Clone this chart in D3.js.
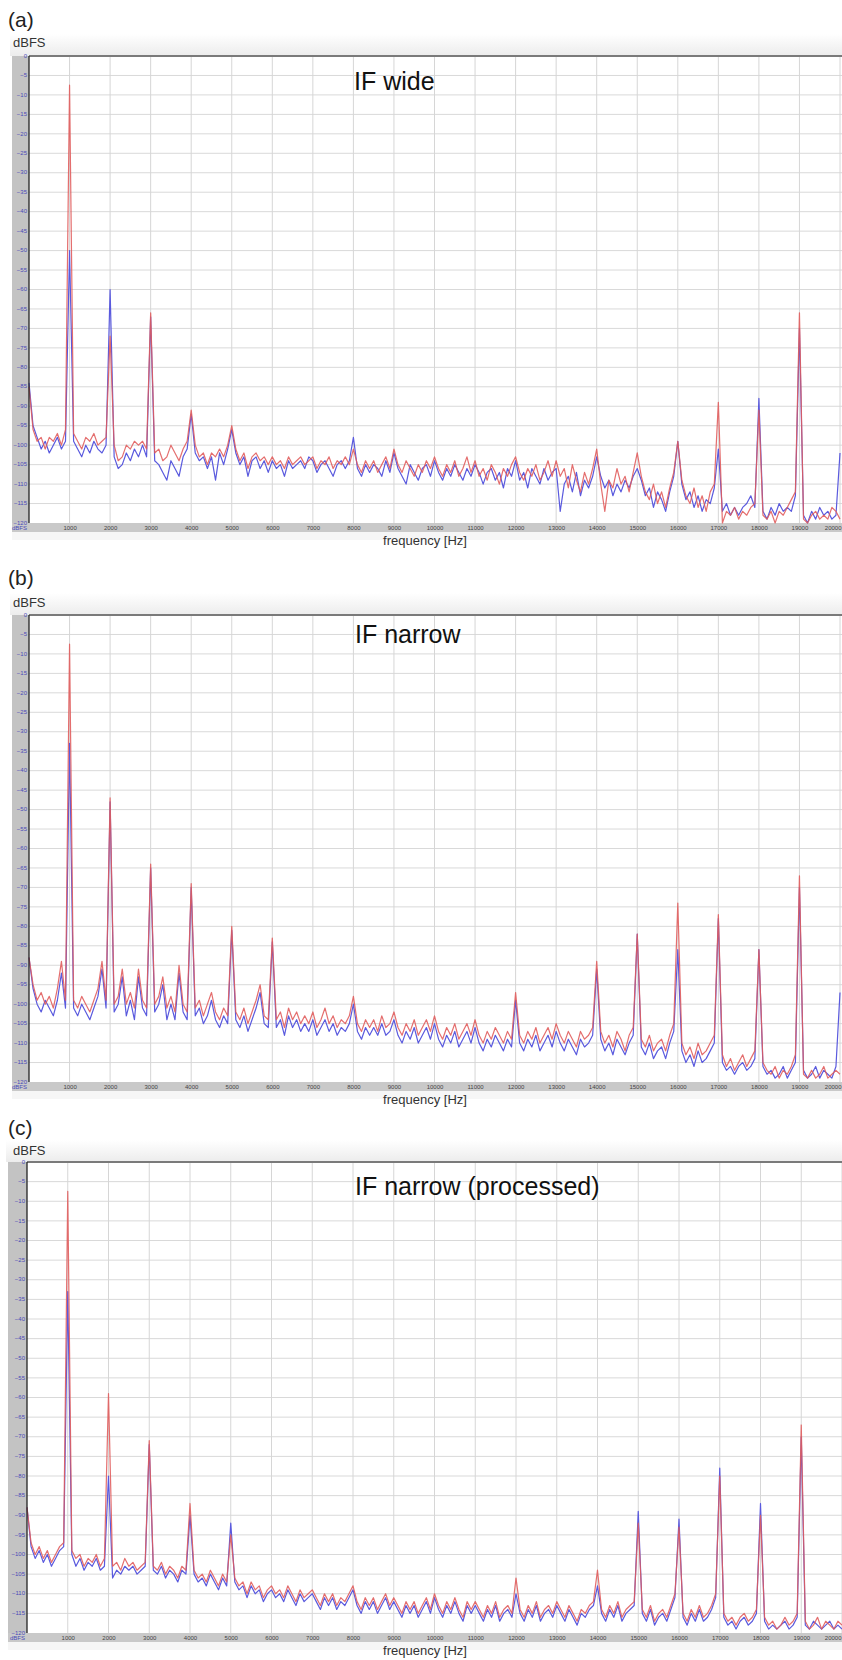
<!DOCTYPE html>
<html>
<head>
<meta charset="utf-8">
<script src="https://cdn.jsdelivr.net/npm/d3@7/dist/d3.min.js"></script>
<style>
html,body{margin:0;padding:0;background:#fff;}
svg{display:block;}
</style>
</head>
<body>
<svg id="chart" width="842" height="1660"></svg>
<script>
// ---------- DATA (dBFS values at 0,100,200,...,20000 Hz) ----------
const panelLabels = ["(a)", "(b)", "(c)"];
const panelTitles = ["IF wide", "IF narrow", "IF narrow (processed)"];
const yTickValues = [-120,-115,-110,-105,-100,-95,-90,-85,-80,-75,-70,-65,-60,-55,-50,-45,-40,-35,-30,-25,-20,-15,-10,-5,0];
const xTickValues = [1000,2000,3000,4000,5000,6000,7000,8000,9000,10000,11000,12000,13000,14000,15000,16000,17000,18000,19000,20000];
const freqStep = 100;

const redA = [
-85,-96,-99,-98,-101,-98,-99,-97,-100,-96,
-7.5,-97,-99,-101,-98,-99,-97,-100,-99,-98,
-72,-100,-104,-103,-100,-101,-99,-100,-99,-101,
-66,-102,-101,-104,-103,-100,-102,-104,-101,-99,
-91,-100,-103,-102,-105,-102,-103,-101,-103,-100,
-95,-101,-104,-102,-106,-103,-102,-104,-103,-105,
-103,-105,-104,-106,-103,-105,-104,-103,-105,-104,
-103,-106,-104,-105,-103,-106,-104,-105,-103,-105,
-101,-105,-107,-104,-106,-104,-107,-105,-103,-106,
-101,-105,-107,-104,-106,-108,-105,-107,-104,-106,
-103,-106,-108,-105,-107,-104,-108,-106,-103,-107,
-104,-108,-106,-109,-105,-107,-110,-106,-108,-105,
-103,-107,-109,-106,-108,-105,-109,-107,-104,-108,
-104,-108,-106,-111,-105,-109,-112,-107,-110,-106,
-101,-110,-117,-109,-111,-106,-110,-108,-112,-107,
-102,-108,-112,-114,-110,-115,-112,-116,-111,-107,
-99,-109,-113,-115,-111,-116,-113,-117,-112,-110,
-89,-120,-117,-118,-116,-119,-117,-118,-116,-115,
-91,-118,-119,-117,-120,-117,-118,-116,-114,-112,
-66,-119,-120,-118,-117,-119,-118,-119,-116,-117,
-119];
const blueA = [
-84,-95,-98,-101,-99,-102,-100,-98,-101,-99,
-50,-99,-101,-103,-100,-102,-99,-101,-102,-100,
-60,-103,-106,-105,-102,-104,-101,-103,-100,-103,
-67,-104,-105,-107,-109,-104,-106,-108,-103,-101,
-92,-102,-104,-103,-106,-103,-109,-102,-105,-101,
-96,-102,-105,-103,-108,-104,-103,-106,-104,-107,
-104,-106,-105,-108,-104,-106,-105,-104,-106,-103,
-104,-107,-105,-104,-106,-108,-105,-104,-106,-104,
-98,-106,-108,-105,-107,-105,-106,-108,-104,-107,
-102,-106,-108,-110,-105,-107,-109,-106,-105,-108,
-104,-107,-109,-106,-108,-105,-107,-109,-106,-108,
-105,-107,-110,-107,-106,-109,-107,-111,-106,-108,
-104,-109,-107,-111,-106,-108,-110,-106,-109,-107,
-106,-117,-110,-108,-112,-107,-113,-109,-111,-108,
-103,-108,-111,-109,-113,-110,-112,-109,-111,-108,
-106,-109,-113,-111,-116,-112,-114,-117,-112,-108,
-99,-110,-114,-112,-116,-113,-117,-114,-115,-111,
-101,-117,-115,-118,-116,-118,-116,-115,-113,-116,
-88,-117,-119,-116,-118,-115,-117,-116,-117,-113,
-70,-118,-120,-117,-119,-116,-118,-117,-119,-118,
-102];

const redB = [
-88,-95,-99,-97,-100,-98,-101,-96,-89,-99,
-7.5,-99,-101,-98,-100,-102,-99,-96,-89,-99,
-47,-100,-98,-91,-100,-97,-101,-91,-99,-101,
-64,-100,-98,-93,-101,-98,-102,-90,-100,-102,
-69,-101,-99,-103,-100,-97,-102,-104,-101,-103,
-80,-102,-104,-101,-105,-102,-99,-95,-103,-104,
-83,-104,-102,-106,-101,-104,-102,-105,-103,-105,
-102,-106,-104,-101,-105,-103,-106,-104,-105,-103,
-98,-105,-107,-104,-106,-104,-107,-103,-106,-105,
-102,-106,-108,-105,-107,-104,-108,-106,-104,-107,
-103,-107,-109,-106,-108,-105,-109,-107,-105,-108,
-104,-108,-110,-107,-109,-106,-108,-110,-107,-109,
-97,-108,-110,-107,-109,-106,-110,-108,-106,-109,
-105,-108,-110,-107,-109,-111,-107,-109,-108,-106,
-89,-107,-110,-108,-111,-107,-109,-112,-108,-106,
-82,-109,-111,-108,-112,-110,-109,-112,-108,-105,
-74,-110,-113,-111,-114,-110,-113,-112,-110,-108,
-77,-113,-116,-114,-117,-115,-113,-116,-114,-112,
-86,-115,-117,-118,-116,-119,-117,-118,-116,-113,
-67,-118,-119,-117,-119,-118,-116,-119,-118,-117,
-118];
const blueB = [
-88,-96,-100,-102,-99,-101,-103,-99,-92,-101,
-33,-101,-103,-100,-102,-104,-101,-98,-91,-101,
-48,-102,-100,-93,-103,-99,-104,-93,-101,-103,
-65,-102,-100,-95,-104,-100,-104,-92,-102,-104,
-70,-103,-101,-105,-103,-99,-104,-106,-103,-105,
-81,-104,-106,-103,-107,-104,-101,-97,-105,-106,
-84,-106,-104,-108,-103,-106,-104,-107,-105,-107,
-104,-108,-106,-104,-107,-105,-108,-106,-107,-105,
-100,-107,-109,-106,-108,-106,-108,-105,-108,-107,
-104,-108,-110,-107,-109,-106,-110,-108,-106,-109,
-105,-109,-111,-108,-110,-107,-111,-109,-107,-110,
-106,-110,-112,-109,-111,-108,-110,-112,-109,-111,
-99,-110,-112,-109,-111,-108,-112,-110,-108,-111,
-107,-110,-112,-109,-111,-113,-109,-111,-110,-108,
-91,-109,-112,-110,-113,-109,-111,-113,-110,-108,
-82,-111,-113,-110,-114,-112,-111,-114,-110,-107,
-86,-112,-115,-113,-116,-112,-115,-114,-112,-110,
-78,-115,-117,-116,-118,-116,-115,-117,-116,-114,
-86,-116,-118,-117,-119,-118,-116,-119,-117,-115,
-70,-117,-119,-118,-116,-119,-117,-118,-119,-116,
-97];

const redC = [
-88,-97,-100,-98,-101,-99,-102,-100,-98,-97,
-7.5,-99,-101,-100,-103,-101,-102,-100,-103,-101,
-59,-103,-102,-104,-101,-103,-102,-104,-103,-102,
-71,-103,-104,-102,-105,-103,-104,-106,-103,-104,
-87,-104,-106,-105,-107,-104,-106,-108,-105,-107,
-95,-106,-108,-107,-110,-107,-109,-108,-111,-109,
-108,-110,-109,-111,-108,-110,-112,-109,-111,-110,
-109,-111,-113,-110,-112,-110,-113,-111,-112,-110,
-108,-112,-114,-111,-113,-111,-114,-112,-110,-113,
-111,-113,-115,-112,-114,-112,-115,-113,-111,-114,
-110,-113,-115,-112,-114,-111,-114,-116,-112,-114,
-112,-114,-116,-113,-115,-112,-116,-114,-113,-115,
-106,-114,-116,-113,-115,-112,-116,-114,-113,-115,
-112,-114,-116,-113,-115,-117,-114,-115,-113,-112,
-104,-114,-116,-113,-115,-112,-116,-114,-113,-112,
-92,-114,-116,-113,-117,-115,-114,-116,-113,-110,
-93,-115,-117,-114,-116,-113,-116,-115,-113,-110,
-80,-115,-117,-116,-118,-116,-115,-117,-116,-114,
-90,-116,-118,-117,-119,-118,-116,-118,-117,-115,
-67,-117,-119,-118,-116,-119,-117,-118,-119,-117,
-118];
const blueC = [
-88,-98,-101,-99,-102,-100,-103,-101,-99,-98,
-33,-100,-103,-101,-104,-102,-103,-101,-104,-103,
-80,-106,-104,-105,-103,-104,-103,-105,-104,-103,
-72,-104,-105,-103,-106,-104,-105,-107,-104,-105,
-90,-105,-107,-106,-108,-105,-107,-109,-106,-108,
-92,-107,-109,-108,-111,-108,-110,-109,-112,-110,
-109,-111,-110,-112,-109,-111,-113,-110,-112,-111,
-110,-112,-114,-111,-113,-111,-114,-112,-113,-111,
-109,-113,-115,-112,-114,-112,-115,-113,-111,-114,
-112,-114,-116,-113,-115,-113,-116,-114,-112,-115,
-111,-114,-116,-113,-115,-112,-115,-117,-113,-115,
-113,-115,-117,-114,-116,-113,-117,-115,-114,-116,
-110,-115,-117,-114,-116,-113,-117,-115,-114,-116,
-113,-115,-117,-114,-116,-118,-115,-116,-114,-113,
-108,-115,-117,-114,-116,-113,-117,-115,-114,-113,
-89,-115,-117,-114,-118,-116,-115,-117,-114,-111,
-91,-116,-118,-115,-117,-114,-117,-116,-114,-111,
-78,-116,-118,-117,-119,-117,-116,-118,-117,-115,
-87,-117,-119,-118,-119,-118,-117,-119,-118,-116,
-70,-118,-119,-117,-118,-119,-118,-117,-119,-118,
-119];

// ---------- LAYOUT ----------
const panels = [
  {top:56,  bottom:523,  left:29, right:840, strip:12, red:redA, blue:blueA, titleX:354, titleDy:34, labelDy:-29, dbfsDy:-9},
  {top:615, bottom:1082, left:29, right:840, strip:12, red:redB, blue:blueB, titleX:355, titleDy:28, labelDy:-30, dbfsDy:-8},
  {top:1162,bottom:1633, left:27, right:842, strip:8,  red:redC, blue:blueC, titleX:355, titleDy:33, labelDy:-27, dbfsDy:-7}
];

const svg = d3.select("#chart");
const defs = svg.append("defs");
const hg = defs.append("linearGradient").attr("id","hdr").attr("x1",0).attr("y1",0).attr("x2",0).attr("y2",1);
hg.append("stop").attr("offset","0%").attr("stop-color","#ffffff");
hg.append("stop").attr("offset","100%").attr("stop-color","#ececec");

const sansFont = "'Liberation Sans', Arial, Helvetica, sans-serif";

panels.forEach((p, k) => {
  const g = svg.append("g");
  const x = d3.scaleLinear().domain([0, 20000]).range([p.left, p.right]);
  const y = d3.scaleLinear().domain([-120, 0]).range([p.bottom, p.top]);

  g.append("rect").attr("x", p.strip - 2).attr("y", p.top - 22).attr("width", 842 - p.strip + 2).attr("height", 22)
    .attr("fill", "url(#hdr)");
  g.append("rect").attr("x", p.left).attr("y", p.top).attr("width", 842 - p.left).attr("height", p.bottom - p.top).attr("fill", "#fff");
  g.append("rect").attr("x", p.strip).attr("y", p.top).attr("width", p.left - p.strip).attr("height", p.bottom - p.top + 9)
    .attr("fill", "#c3c3c3");
  g.append("rect").attr("x", p.strip).attr("y", p.bottom).attr("width", 842 - p.strip).attr("height", 9)
    .attr("fill", "#c9c9c9");
  g.append("rect").attr("x", p.strip).attr("y", p.bottom + 9).attr("width", 842 - p.strip).attr("height", 8)
    .attr("fill", "#f6f6f6");

  g.append("g").selectAll("line").data(yTickValues.filter(v => v > -120 && v < 0)).join("line")
    .attr("x1", p.left).attr("x2", 842).attr("y1", d => y(d)).attr("y2", d => y(d))
    .attr("stroke", "#d9d9d9").attr("stroke-width", 1);
  g.append("g").selectAll("line").data(xTickValues).join("line")
    .attr("x1", d => x(d)).attr("x2", d => x(d)).attr("y1", p.top).attr("y2", p.bottom)
    .attr("stroke", "#d6d6d6").attr("stroke-width", 1);

  const line = d3.line().x((d, i) => x(i * freqStep)).y(d => y(d));
  g.append("path").datum(p.blue).attr("d", line).attr("fill", "none")
    .attr("stroke", "#5a5ade").attr("stroke-width", 1.2).attr("stroke-linejoin", "round");
  g.append("path").datum(p.red).attr("d", line).attr("fill", "none")
    .attr("stroke", "#e05a5a").attr("stroke-width", 1.2).attr("stroke-opacity", 0.88).attr("stroke-linejoin", "round");

  g.append("line").attr("x1", p.left).attr("x2", 842).attr("y1", p.top).attr("y2", p.top)
    .attr("stroke", "#7a7a7a").attr("stroke-width", 2.2);
  g.append("line").attr("x1", p.left).attr("x2", p.left).attr("y1", p.top).attr("y2", p.bottom)
    .attr("stroke", "#222").attr("stroke-width", 1.3);

  const ya = g.append("g").attr("transform", `translate(${p.left - 1},0)`)
    .call(d3.axisLeft(y).tickValues(yTickValues).tickSize(0).tickPadding(1).tickFormat(d3.format("d")));
  ya.select(".domain").remove();
  ya.selectAll("text").attr("font-size", 6).attr("font-family", sansFont).attr("fill", "#4a4ab8").attr("dy", "0.2em");

  const xa = g.append("g").attr("transform", `translate(0,${p.bottom + 1})`)
    .call(d3.axisBottom(x).tickValues(xTickValues).tickSize(0).tickPadding(2).tickFormat(d3.format("d")));
  xa.select(".domain").remove();
  xa.selectAll("text").attr("font-size", 6).attr("font-family", sansFont).attr("fill", "#444");
  xa.selectAll(".tick").filter(d => d === 20000).select("text").attr("text-anchor", "end").attr("x", 841 - x(20000));

  g.append("text").attr("x", p.left - 2).attr("y", p.bottom + 7).attr("text-anchor", "end")
    .attr("font-size", 6).attr("font-family", sansFont).attr("fill", "#4a4ab8").text("dBFS");

  g.append("text").attr("x", 8).attr("y", p.top + p.labelDy).attr("font-size", 21).attr("font-family", sansFont)
    .attr("fill", "#222").text(panelLabels[k]);
  g.append("text").attr("x", 13).attr("y", p.top + p.dbfsDy).attr("font-size", 13).attr("font-family", sansFont)
    .attr("fill", "#333").text("dBFS");
  g.append("text").attr("x", p.titleX).attr("y", p.top + p.titleDy).attr("font-size", 25).attr("font-family", sansFont)
    .attr("fill", "#111").text(panelTitles[k]);
  g.append("text").attr("x", 425).attr("y", p.bottom + 22).attr("text-anchor", "middle").attr("font-size", 13)
    .attr("font-family", sansFont).attr("fill", "#333").text("frequency [Hz]");
});
</script>
</body>
</html>
